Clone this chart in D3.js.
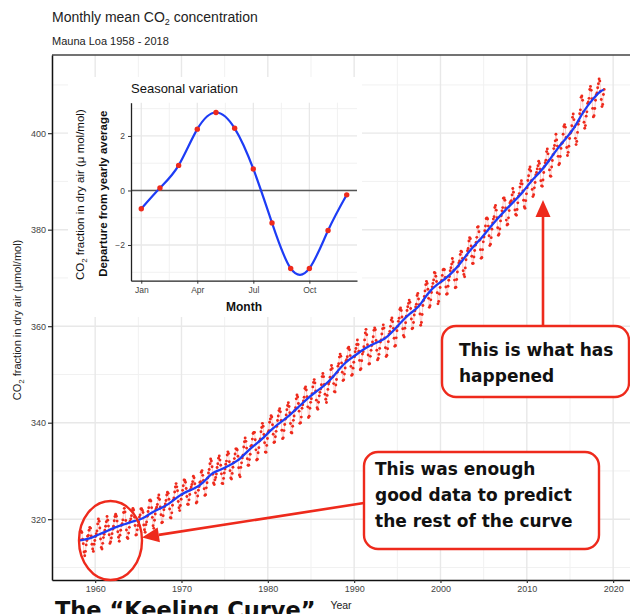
<!DOCTYPE html>
<html>
<head>
<meta charset="utf-8">
<script src="https://cdn.jsdelivr.net/npm/d3@7"></script>
<style>
  body { margin: 0; background: #fff; }
  svg { display: block; font-family: "Liberation Sans", Arial, Helvetica, sans-serif; }
</style>
</head>
<body>
<svg id="chart" width="630" height="614"></svg>
<script>
// ---- Main series: monthly mean CO2 at Mauna Loa (ppm), first value = March 1958 ----
const firstYear = 1958;
const firstMonthIndex = 2; // March
const co2Monthly = [
  315.70, 317.45, 317.51, 317.24, 315.86, 314.93, 313.20, 312.43, 313.33, 314.67,
  315.58, 316.48, 316.65, 317.72, 318.29, 318.15, 316.54, 314.80, 313.84, 313.33, 314.81, 315.58,
  316.43, 316.98, 317.58, 319.03, 320.04, 319.58, 318.18, 315.91, 314.16, 313.83, 315.00, 316.19,
  316.89, 317.70, 318.54, 319.48, 320.58, 319.77, 318.57, 316.79, 314.99, 315.31, 316.10, 317.01,
  317.94, 318.55, 319.68, 320.57, 321.02, 320.62, 319.61, 317.40, 316.25, 315.42, 316.69, 317.70,
  318.74, 319.07, 319.86, 321.38, 322.25, 321.48, 319.74, 317.77, 316.21, 315.99, 317.12, 318.31,
  319.57, 320.07, 320.73, 321.77, 322.25, 321.89, 320.44, 318.70, 316.70, 316.79, 317.79, 318.71,
  319.44, 320.44, 320.89, 322.13, 322.16, 321.87, 321.39, 318.81, 317.81, 317.30, 318.87, 319.42,
  320.62, 321.59, 322.39, 323.87, 324.01, 323.75, 322.39, 320.37, 318.64, 318.10, 319.79, 321.08,
  322.07, 322.50, 323.04, 324.42, 325.00, 324.09, 322.54, 320.92, 319.25, 319.39, 320.73, 321.96,
  322.57, 323.15, 323.89, 325.02, 325.57, 325.36, 324.14, 322.11, 320.33, 320.25, 321.32, 322.90,
  324.00, 324.42, 325.64, 326.66, 327.38, 326.70, 325.89, 323.67, 322.38, 321.78, 322.85, 324.12,
  325.06, 325.98, 326.93, 328.13, 328.07, 327.66, 326.35, 324.69, 323.10, 323.07, 324.01, 325.13,
  326.17, 326.68, 327.18, 327.78, 328.92, 328.57, 327.34, 325.46, 323.36, 323.57, 324.80, 326.01,
  326.77, 327.63, 327.75, 329.72, 330.07, 329.09, 328.05, 326.32, 324.93, 325.06, 326.50, 327.55,
  328.54, 329.56, 330.30, 331.50, 332.48, 332.07, 330.87, 329.31, 327.51, 327.18, 328.16, 328.64,
  329.35, 330.71, 331.48, 332.65, 333.09, 332.25, 331.18, 329.40, 327.43, 327.37, 328.46, 329.57,
  330.40, 331.40, 332.04, 333.31, 333.96, 333.59, 331.91, 330.06, 328.56, 328.34, 329.49, 330.76,
  331.75, 332.56, 333.50, 334.58, 334.57, 334.34, 333.06, 330.66, 329.15, 328.78, 330.73, 331.68,
  332.70, 333.24, 334.96, 336.04, 336.82, 336.13, 334.73, 332.52, 331.19, 331.19, 332.35, 333.47,
  335.11, 335.26, 336.60, 337.77, 338.00, 337.99, 336.48, 334.37, 332.27, 332.41, 333.76, 334.83,
  336.21, 336.64, 338.12, 338.99, 339.86, 339.25, 337.55, 335.84, 333.91, 333.86, 335.29, 336.73,
  338.01, 338.36, 340.08, 340.77, 341.46, 341.17, 339.56, 337.60, 335.88, 336.01, 337.10, 338.21,
  339.23, 340.47, 341.38, 342.51, 342.91, 342.25, 340.49, 338.43, 336.69, 336.86, 338.36, 339.61,
  340.75, 341.61, 342.70, 343.56, 344.13, 343.35, 342.06, 339.82, 337.97, 337.86, 339.26, 340.49,
  341.38, 342.52, 343.10, 344.94, 345.75, 345.32, 343.99, 342.39, 339.86, 339.99, 341.16, 342.99,
  343.70, 344.51, 345.28, 347.08, 347.43, 346.79, 345.40, 343.28, 341.07, 341.35, 342.98, 344.22,
  344.97, 345.99, 347.42, 348.35, 348.93, 348.25, 346.56, 344.67, 343.09, 342.80, 344.24, 345.56,
  346.29, 346.96, 347.86, 349.55, 350.21, 349.54, 347.94, 345.91, 344.86, 344.17, 345.66, 346.90,
  348.02, 348.47, 349.42, 350.99, 351.84, 351.25, 349.52, 348.10, 346.44, 346.36, 347.81, 348.96,
  350.43, 351.72, 352.22, 353.59, 354.22, 353.79, 352.39, 350.44, 348.72, 348.88, 350.07, 351.34,
  352.76, 353.07, 353.68, 355.42, 355.67, 355.12, 353.90, 351.67, 349.80, 349.99, 351.30, 352.53,
  353.66, 354.70, 355.39, 356.20, 357.16, 356.22, 354.82, 352.91, 350.96, 351.18, 352.83, 354.21,
  354.72, 355.75, 357.16, 358.60, 359.34, 358.24, 356.17, 354.02, 352.15, 352.21, 353.75, 354.99,
  355.99, 356.72, 357.81, 359.15, 359.66, 359.25, 357.02, 355.00, 353.01, 353.31, 354.16, 355.40,
  356.70, 357.17, 358.38, 359.46, 360.28, 359.60, 357.57, 355.52, 353.70, 353.98, 355.33, 356.80,
  358.36, 358.91, 359.97, 361.26, 361.69, 360.94, 359.55, 357.49, 355.84, 356.00, 357.58, 359.04,
  359.97, 361.00, 361.64, 363.45, 363.79, 363.26, 361.90, 359.46, 358.06, 357.75, 359.56, 360.70,
  362.05, 363.25, 364.03, 364.72, 365.41, 364.97, 363.65, 361.49, 359.46, 359.60, 360.76, 362.33,
  363.18, 364.00, 364.57, 366.35, 366.79, 365.62, 364.47, 362.51, 360.19, 360.77, 362.43, 364.28,
  365.32, 366.15, 367.31, 368.61, 369.29, 368.87, 367.64, 365.77, 363.90, 364.23, 365.46, 366.97,
  368.15, 368.87, 369.59, 371.14, 371.00, 370.35, 369.27, 366.94, 364.63, 365.12, 366.67, 368.01,
  369.14, 369.46, 370.52, 371.66, 371.82, 371.70, 370.12, 368.12, 366.62, 366.73, 368.29, 369.53,
  370.28, 371.50, 372.12, 372.87, 374.02, 373.30, 371.62, 369.55, 367.96, 368.09, 369.68, 371.24,
  372.44, 373.08, 373.52, 374.85, 375.55, 375.40, 374.02, 371.48, 370.70, 370.25, 372.08, 373.78,
  374.68, 375.62, 376.11, 377.65, 378.35, 378.13, 376.62, 374.50, 372.99, 373.01, 374.35, 375.70,
  376.79, 377.37, 378.41, 380.52, 380.63, 379.57, 377.79, 375.86, 374.06, 374.24, 375.86, 377.48,
  378.48, 379.77, 380.75, 382.29, 382.45, 382.21, 380.74, 378.74, 376.70, 377.00, 378.35, 380.11,
  381.38, 382.19, 382.67, 384.61, 385.03, 384.05, 382.46, 380.41, 378.85, 379.13, 380.15, 381.82,
  382.89, 383.90, 384.58, 386.50, 386.56, 386.10, 384.50, 381.99, 380.96, 381.12, 382.45, 383.95,
  385.52, 385.82, 386.03, 387.21, 388.54, 387.76, 386.36, 384.09, 383.18, 382.99, 384.19, 385.56,
  386.94, 387.48, 388.82, 389.55, 390.14, 389.48, 388.03, 386.11, 384.74, 384.43, 386.02, 387.42,
  388.71, 390.20, 391.17, 392.46, 393.00, 392.15, 390.20, 388.35, 386.85, 387.24, 388.67, 389.79,
  391.33, 391.86, 392.60, 393.25, 394.19, 393.74, 392.51, 390.13, 389.08, 389.00, 390.28, 391.86,
  393.12, 393.86, 394.40, 396.18, 396.74, 395.71, 394.36, 392.39, 391.11, 391.05, 392.98, 394.34,
  395.55, 396.80, 397.43, 398.41, 399.78, 398.61, 397.32, 395.20, 393.45, 393.70, 395.16, 396.84,
  397.85, 398.01, 399.77, 401.38, 401.78, 401.25, 399.10, 397.03, 395.38, 396.03, 397.28, 398.91,
  399.98, 400.28, 401.54, 403.28, 403.96, 402.80, 401.31, 398.93, 397.63, 398.29, 400.16, 401.85,
  402.52, 404.04, 404.83, 407.42, 407.70, 406.81, 404.39, 402.25, 401.03, 401.57, 403.53, 404.42,
  406.17, 406.46, 407.22, 409.04, 409.69, 408.88, 407.12, 405.13, 403.37, 403.63, 405.12, 406.81,
  407.96, 408.32, 409.41, 410.24, 411.24, 410.79, 408.71, 406.99, 405.51, 405.95, 408.02, 409.07
];

// Smoothed long-term trend (blue line): decimal year and ppm
const trendYear = [1958.2, 1959.5, 1960.5, 1961.5, 1962.5, 1963.5, 1964.5, 1965.5, 1966.5, 1967.5,
  1968.5, 1969.5, 1970.5, 1971.5, 1972.5, 1973.5, 1974.5, 1975.5, 1976.5, 1977.5,
  1978.5, 1979.5, 1980.5, 1981.5, 1982.5, 1983.5, 1984.5, 1985.5, 1986.5, 1987.5,
  1988.5, 1989.5, 1990.5, 1991.5, 1992.5, 1993.5, 1994.5, 1995.5, 1996.5, 1997.5,
  1998.5, 1999.5, 2000.5, 2001.5, 2002.5, 2003.5, 2004.5, 2005.5, 2006.5, 2007.5,
  2008.5, 2009.5, 2010.5, 2011.5, 2012.5, 2013.5, 2014.5, 2015.5, 2016.5, 2017.5,
  2018.5, 2018.9];
const trendPpm = [315.6, 315.98, 316.91, 317.64, 318.45, 318.99, 319.62, 320.04, 321.37, 322.18,
  323.05, 324.62, 325.68, 326.32, 327.46, 329.68, 330.19, 331.12, 332.03, 333.84,
  335.41, 336.84, 338.76, 340.12, 341.48, 343.15, 344.87, 346.35, 347.61, 349.31,
  351.69, 353.20, 354.45, 355.70, 356.54, 357.21, 358.96, 360.97, 362.74, 363.88,
  366.84, 368.54, 369.71, 371.32, 373.45, 375.98, 377.70, 379.98, 382.09, 384.02,
  385.83, 387.64, 390.10, 391.85, 394.06, 396.74, 398.81, 401.01, 404.41, 406.76,
  408.72, 409.0];

const yearTicks = [1960, 1970, 1980, 1990, 2000, 2010, 2020];
const yearMinor = [1955, 1965, 1975, 1985, 1995, 2005, 2015];
const ppmTicks = [320, 340, 360, 380, 400];
const ppmMinor = [310, 330, 350, 370, 390, 410];

// ---- Inset: seasonal departure from yearly average ----
const monthNumber = [1, 2, 3, 4, 5, 6, 7, 8, 9, 10, 11, 12];
const seasonalDeparture = [-0.67, 0.09, 0.92, 2.25, 2.86, 2.28, 0.79, -1.19, -2.86, -2.86, -1.47, -0.16];
const monthTicks = [1, 4, 7, 10];
const monthTickLabels = ["Jan", "Apr", "Jul", "Oct"];
const monthMinor = [2.5, 5.5, 8.5, 11.5];
const departureTicks = [-2, 0, 2];
const departureMinor = [-3, -1, 1, 3];

const RED = "#ee2a1c";
const BLUE = "#1d3cf5";
const GRID_MAJOR = "#e8e8e8";
const GRID_MINOR = "#f1f1f1";

const svg = d3.select("#chart");

// ---- Main panel ----
const P = { left: 52, right: 633, top: 55, bottom: 580 };
const x = d3.scaleLinear().domain([1955, 2022.3]).range([P.left, P.right]);
const y = d3.scaleLinear().domain([307.4, 416.2]).range([P.bottom, P.top]);

const grid = svg.append("g");
grid.selectAll(".vmin").data(yearMinor).join("line")
  .attr("x1", d => x(d)).attr("x2", d => x(d)).attr("y1", P.top).attr("y2", P.bottom)
  .attr("stroke", GRID_MINOR).attr("stroke-width", 1);
grid.selectAll(".hmin").data(ppmMinor).join("line")
  .attr("y1", d => y(d)).attr("y2", d => y(d)).attr("x1", P.left).attr("x2", P.right)
  .attr("stroke", GRID_MINOR).attr("stroke-width", 1);
grid.selectAll(".vmaj").data(yearTicks).join("line")
  .attr("x1", d => x(d)).attr("x2", d => x(d)).attr("y1", P.top).attr("y2", P.bottom)
  .attr("stroke", GRID_MAJOR).attr("stroke-width", 1.4);
grid.selectAll(".hmaj").data(ppmTicks).join("line")
  .attr("y1", d => y(d)).attr("y2", d => y(d)).attr("x1", P.left).attr("x2", P.right)
  .attr("stroke", GRID_MAJOR).attr("stroke-width", 1.4);

// monthly observations
const monthly = co2Monthly.map((v, i) => {
  const m = firstMonthIndex + i;
  return { t: firstYear + Math.floor(m / 12) + ((m % 12) + 0.5) / 12, v };
});
svg.append("path").datum(monthly)
  .attr("fill", "none").attr("stroke", RED).attr("stroke-opacity", 0.35).attr("stroke-width", 0.7)
  .attr("d", d3.line().x(d => x(d.t)).y(d => y(d.v)));
svg.append("g").selectAll("circle").data(monthly).join("circle")
  .attr("cx", d => x(d.t)).attr("cy", d => y(d.v)).attr("r", 1.45).attr("fill", RED);

// long-term trend
svg.append("path").datum(trendYear.map((t, i) => [t, trendPpm[i]]))
  .attr("fill", "none").attr("stroke", BLUE).attr("stroke-width", 2.3)
  .attr("d", d3.line().x(d => x(d[0])).y(d => y(d[1])).curve(d3.curveBasis));

// panel frame and axes
svg.append("line").attr("x1", P.left).attr("x2", P.right).attr("y1", P.top).attr("y2", P.top)
  .attr("stroke", "#444").attr("stroke-width", 1.4);
const xAxis = svg.append("g").attr("transform", `translate(0,${P.bottom})`)
  .call(d3.axisBottom(x).tickValues(yearTicks).tickFormat(d3.format("d")).tickSize(3).tickSizeOuter(0).tickPadding(3));
const yAxis = svg.append("g").attr("transform", `translate(${P.left},0)`)
  .call(d3.axisLeft(y).tickValues(ppmTicks).tickSize(4).tickSizeOuter(0).tickPadding(2));
[xAxis, yAxis].forEach(a => {
  a.select(".domain").attr("stroke", "#111").attr("stroke-width", 1.5);
  a.selectAll(".tick line").attr("stroke", "#333").attr("stroke-width", 1.2);
  a.selectAll(".tick text").attr("fill", "#444").attr("font-size", 9).attr("font-family", "Liberation Sans, Arial, sans-serif");
});

// titles
const title = svg.append("text").attr("x", 52).attr("y", 22).attr("font-size", 14).attr("fill", "#222");
title.append("tspan").text("Monthly mean CO");
title.append("tspan").attr("font-size", 9).attr("dy", 3).text("2");
title.append("tspan").attr("dy", -3).text(" concentration");
svg.append("text").attr("x", 52).attr("y", 45).attr("font-size", 11).attr("fill", "#222")
  .text("Mauna Loa 1958 - 2018");
svg.append("text").attr("x", (P.left + 630) / 2).attr("y", 609).attr("text-anchor", "middle")
  .attr("font-size", 10.5).attr("fill", "#222").text("Year");
const yTitle = svg.append("text").attr("transform", "translate(21,320) rotate(-90)")
  .attr("text-anchor", "middle").attr("font-size", 11).attr("fill", "#222");
yTitle.append("tspan").text("CO");
yTitle.append("tspan").attr("font-size", 8).attr("dy", 3).text("2");
yTitle.append("tspan").attr("dy", -3).text(" fraction in dry air (\u03bcmol/mol)");

// ---- Inset panel ----
svg.append("rect").attr("x", 68).attr("y", 77).attr("width", 294).attr("height", 240).attr("fill", "#fff");
const I = { left: 131, right: 357, top: 102.7, bottom: 280.7 };
const xi = d3.scaleLinear().domain([0.45, 12.55]).range([I.left, I.right]);
const yi = d3.scaleLinear().domain([-3.31, 3.22]).range([I.bottom, I.top]);
const ig = svg.append("g");
ig.selectAll(".vmin").data(monthMinor).join("line")
  .attr("x1", d => xi(d)).attr("x2", d => xi(d)).attr("y1", I.top).attr("y2", I.bottom)
  .attr("stroke", GRID_MINOR).attr("stroke-width", 1);
ig.selectAll(".hmin").data(departureMinor).join("line")
  .attr("y1", d => yi(d)).attr("y2", d => yi(d)).attr("x1", I.left).attr("x2", I.right)
  .attr("stroke", GRID_MINOR).attr("stroke-width", 1);
ig.selectAll(".vmaj").data(monthTicks).join("line")
  .attr("x1", d => xi(d)).attr("x2", d => xi(d)).attr("y1", I.top).attr("y2", I.bottom)
  .attr("stroke", GRID_MAJOR).attr("stroke-width", 1.3);
ig.selectAll(".hmaj").data(departureTicks).join("line")
  .attr("y1", d => yi(d)).attr("y2", d => yi(d)).attr("x1", I.left).attr("x2", I.right)
  .attr("stroke", GRID_MAJOR).attr("stroke-width", 1.3);
// zero reference line
ig.append("line").attr("x1", I.left).attr("x2", I.right).attr("y1", yi(0)).attr("y2", yi(0))
  .attr("stroke", "#555").attr("stroke-width", 1.4);

const seasonal = monthNumber.map((m, i) => [m, seasonalDeparture[i]]);
ig.append("path").datum(seasonal).attr("fill", "none").attr("stroke", BLUE).attr("stroke-width", 2.2)
  .attr("d", d3.line().x(d => xi(d[0])).y(d => yi(d[1])).curve(d3.curveNatural));
ig.selectAll("circle").data(seasonal).join("circle")
  .attr("cx", d => xi(d[0])).attr("cy", d => yi(d[1])).attr("r", 2.7).attr("fill", RED);

const xiAxis = ig.append("g").attr("transform", `translate(0,${I.bottom})`)
  .call(d3.axisBottom(xi).tickValues(monthTicks).tickFormat((d, i) => monthTickLabels[i]).tickSize(3).tickSizeOuter(0).tickPadding(3));
const yiAxis = ig.append("g").attr("transform", `translate(${I.left},0)`)
  .call(d3.axisLeft(yi).tickValues(departureTicks).tickFormat(d3.format("d")).tickSize(3).tickSizeOuter(0).tickPadding(3));
[xiAxis, yiAxis].forEach(a => {
  a.select(".domain").attr("stroke", "#222").attr("stroke-width", 1.3);
  a.selectAll(".tick line").attr("stroke", "#333");
  a.selectAll(".tick text").attr("fill", "#444").attr("font-size", 8.5).attr("font-family", "Liberation Sans, Arial, sans-serif");
});

svg.append("text").attr("x", 131).attr("y", 93).attr("font-size", 13).attr("fill", "#111").text("Seasonal variation");
svg.append("text").attr("x", (I.left + I.right) / 2).attr("y", 311).attr("text-anchor", "middle")
  .attr("font-size", 12).attr("fill", "#111").attr("font-weight", "bold").text("Month");
const iy1 = svg.append("text").attr("transform", `translate(84,${(I.top + I.bottom) / 2 + 3}) rotate(-90)`)
  .attr("text-anchor", "middle").attr("font-size", 11.5).attr("fill", "#111");
iy1.append("tspan").text("CO");
iy1.append("tspan").attr("font-size", 8).attr("dy", 3).text("2");
iy1.append("tspan").attr("dy", -3).text(" fraction in dry air (\u03bc mol/mol)");
svg.append("text").attr("transform", `translate(107,${(I.top + I.bottom) / 2 + 2}) rotate(-90)`)
  .attr("text-anchor", "middle").attr("font-size", 11.5).attr("font-weight", "bold").attr("fill", "#111")
  .text("Departure from yearly average");

// ---- Annotations ----
const note = svg.append("g").attr("fill", "none").attr("stroke", RED).attr("stroke-width", 2.4);
note.append("ellipse").attr("cx", 110.5).attr("cy", 540.5).attr("rx", 31.5).attr("ry", 39.5);
note.append("rect").attr("x", 442).attr("y", 326).attr("width", 187).attr("height", 71).attr("rx", 14).attr("fill", "#fff");
note.append("rect").attr("x", 364).attr("y", 452).attr("width", 235).attr("height", 97).attr("rx", 14).attr("fill", "#fff");

function arrow(x1, y1, x2, y2) {
  const a = Math.atan2(y2 - y1, x2 - x1), len = 17, hw = 7.5;
  const bx = x2 - len * Math.cos(a), by = y2 - len * Math.sin(a);
  note.append("line").attr("x1", x1).attr("y1", y1).attr("x2", bx).attr("y2", by).attr("stroke-width", 2.6);
  note.append("path").attr("stroke", "none").attr("fill", RED)
    .attr("d", `M${x2},${y2}L${bx + hw * Math.sin(a)},${by - hw * Math.cos(a)}L${bx - hw * Math.sin(a)},${by + hw * Math.cos(a)}Z`);
}
arrow(543, 325, 543, 200);
arrow(364, 503, 142, 537.5);

const noteFont = "DejaVu Sans, Verdana, sans-serif";
function noteText(xp, yp, lines, dy) {
  const t = svg.append("text").attr("font-family", noteFont).attr("font-weight", "bold")
    .attr("font-size", 17).attr("fill", "#111");
  lines.forEach((l, i) => t.append("tspan").attr("x", xp).attr("y", yp + i * dy).text(l));
}
noteText(459, 356, ["This is what has", "happened"], 26);
noteText(375, 475, ["This was enough", "good data to predict", "the rest of the curve"], 26);

// slide caption running off the bottom edge
svg.append("text").attr("x", 55).attr("y", 618).attr("font-family", noteFont).attr("font-weight", "bold")
  .attr("font-size", 22.5).attr("fill", "#111").text("The \u201cKeeling Curve\u201d");
</script>
</body>
</html>
